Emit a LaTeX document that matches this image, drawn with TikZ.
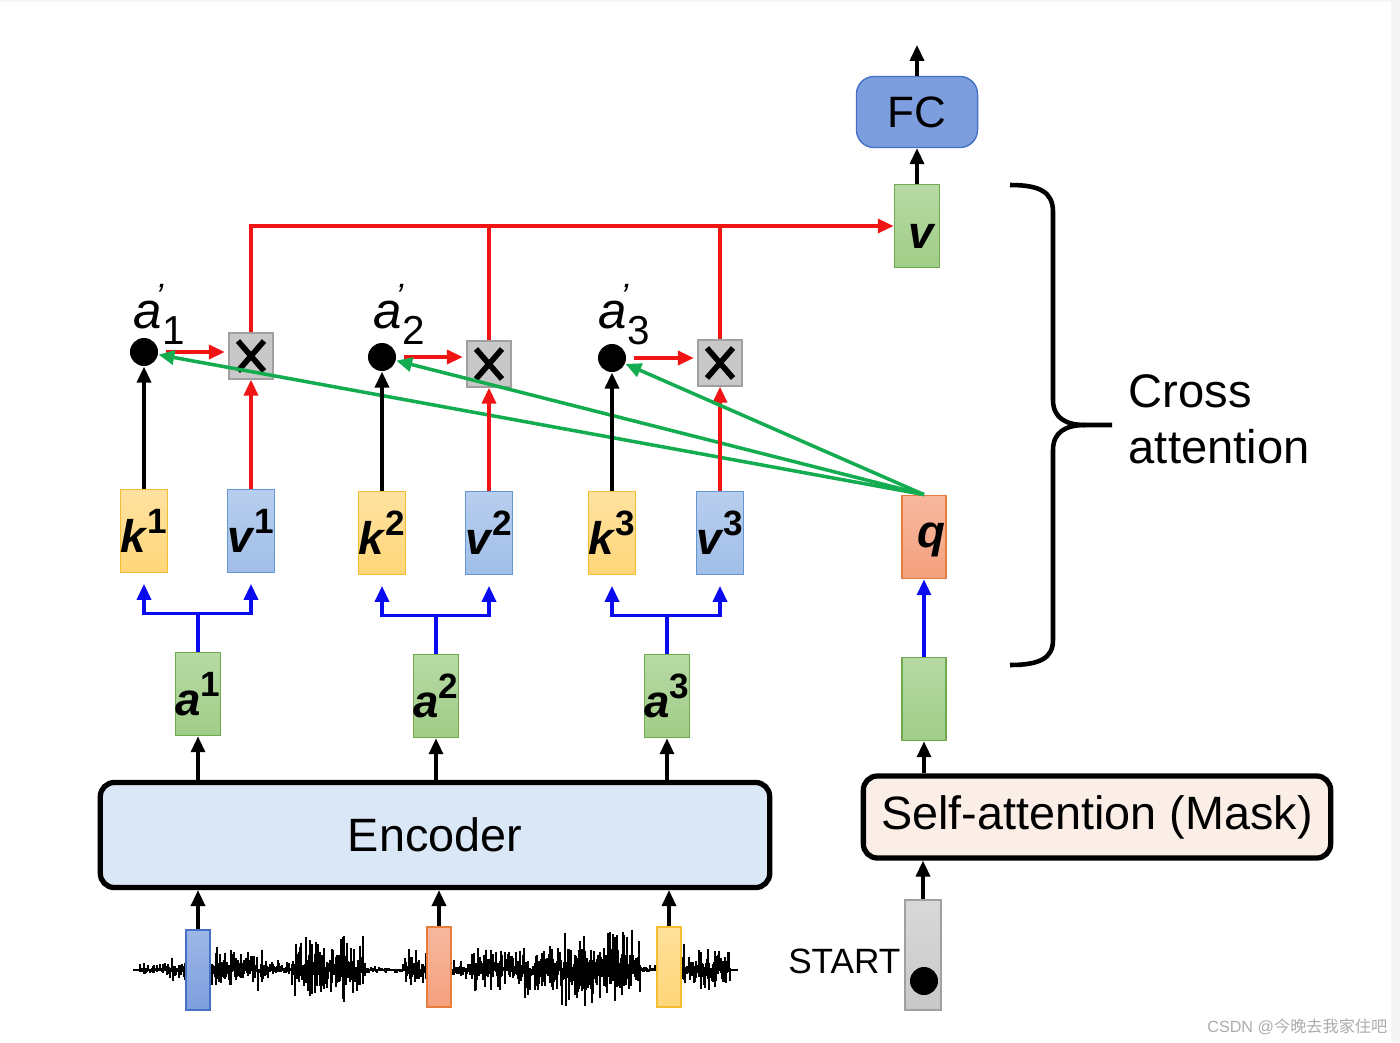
\documentclass[tikz,border=0pt]{standalone}
\usepackage{fontspec}
\setmainfont{Liberation Sans}
\newfontfamily\cjk{Noto Sans CJK SC}
\usepackage{tikz}
\usetikzlibrary{arrows.meta,positioning,calc}
\definecolor{ink}{RGB}{0,0,0}
\definecolor{keyfill}{RGB}{255,214,120}
\definecolor{keyedge}{RGB}{245,190,50}
\definecolor{valfill}{RGB}{160,190,232}
\definecolor{valedge}{RGB}{100,150,210}
\definecolor{grnfill}{RGB}{160,205,135}
\definecolor{grnedge}{RGB}{110,170,75}
\definecolor{qfill}{RGB}{244,160,125}
\definecolor{qedge}{RGB}{230,125,60}
\definecolor{mulfill}{RGB}{200,200,200}
\definecolor{muledge}{RGB}{160,160,160}
\definecolor{fcfill}{RGB}{125,158,222}
\definecolor{fcedge}{RGB}{70,112,196}
\definecolor{encfill}{RGB}{218,231,246}
\definecolor{safill}{RGB}{250,238,230}
\definecolor{redline}{RGB}{240,20,20}
\definecolor{bluline}{RGB}{10,10,240}
\definecolor{grnline}{RGB}{20,172,80}
\newcommand\vecl[2]{\textbf{\textit{#1}}\raisebox{0.42em}{\fontsize{10}{10}\selectfont\bfseries #2}}
\newcommand\aprime[1]{\textit{a}\llap{\raisebox{0.38em}{\fontsize{10}{10}\selectfont\textit{’}}\kern-0.03em}\raisebox{-0.32em}{\fontsize{11.5}{11.5}\selectfont #1}}

\begin{document}
\begin{tikzpicture}[x=0.01cm,y=-0.01cm,
    tall/.style={minimum width=0.44cm,minimum height=0.83cm,inner sep=0pt,
      line width=0.5pt,font=\fontsize{13}{13}\selectfont},
    keybox/.style={tall,draw=keyedge,top color=keyfill!70!white,bottom color=keyfill},
    valbox/.style={tall,draw=valedge,top color=valfill!75!white,bottom color=valfill},
    inbox/.style={tall,draw=grnedge,top color=grnfill!75!white,bottom color=grnfill},
    qbox/.style={tall,draw=qedge,top color=qfill!75!white,bottom color=qfill},
    mulbox/.style={draw=muledge,fill=mulfill,minimum width=0.44cm,minimum height=0.46cm,
      inner sep=0pt,path picture={
        \draw[ink,line width=1.6pt]
          ($(path picture bounding box.south west)+(0.09cm,0.08cm)$) --
          ($(path picture bounding box.north east)+(-0.09cm,-0.08cm)$)
          ($(path picture bounding box.north west)+(0.09cm,-0.08cm)$) --
          ($(path picture bounding box.south east)+(-0.09cm,0.08cm)$);}},
    dot/.style={circle,fill=ink,minimum size=0.28cm,inner sep=0pt},
    bigbox/.style={draw=ink,line width=1.5pt,rounded corners=4pt,inner sep=0pt,
      font=\fontsize{13.3}{13.3}\selectfont},
    chunk/.style={minimum width=0.24cm,minimum height=0.8cm,inner sep=0pt,line width=0.6pt},
    blk/.style={draw=ink,line width=0.9pt,-{Triangle[length=4.5pt,width=4pt]}},
    redarr/.style={draw=redline,line width=0.9pt,-{Triangle[length=4.5pt,width=4pt]}},
    bluarr/.style={draw=bluline,line width=0.9pt,-{Triangle[length=4.5pt,width=4pt]}},
    grnarr/.style={draw=grnline,line width=1pt,-{Triangle[length=4.5pt,width=4pt]}},
    wave/.style={draw=ink,line width=0.55pt}]
  \useasboundingbox (0,0) rectangle (1400,1042);
  \fill[gray!8] (1391,0) rectangle (1400,1042);
  \fill[gray!8] (0,0) rectangle (1391,2);

  % waveform
  \pgfmathsetseed{11}
  \draw[wave] (133,970) -- (738,970);
  \foreach \xa/\xb/\amp in {140/158/9,160/185/14,212/262/28,263/290/12,292/365/42,
      366/400/5,402/426/24,452/470/12,471/520/26,521/560/36,561/640/44,
      641/656/5,682/730/27}{
    \foreach \x in {\xa,...,\xb}{
      \pgfmathsetmacro\up{\amp*rnd*(0.25+0.75*rnd)}
      \pgfmathsetmacro\dn{\amp*0.85*rnd*(0.25+0.75*rnd)}
      \draw[wave] (\x,{970-\up}) -- (\x,{970+\dn});
    }
  }
  \node[chunk,draw=fcedge,top color=fcfill!75!white,bottom color=fcfill] (w1) at (198,970) {};
  \node[chunk,draw=qedge,top color=qfill!75!white,bottom color=qfill] (w2) at (439,967) {};
  \node[chunk,draw=keyedge,top color=keyfill!75!white,bottom color=keyfill] (w3) at (669,967) {};

  % encoder side
  \node[bigbox,fill=encfill,minimum width=6.69cm,minimum height=1.05cm] (enc) at (435,835) {Encoder};
  \node[inbox] (a1) at (198,694) {\vecl{a}{1}};
  \node[inbox] (a2) at (436,696) {\vecl{a}{2}};
  \node[inbox] (a3) at (667,696) {\vecl{a}{3}};
  \node[keybox] (k1) at (144,531) {\vecl{k}{1}};
  \node[valbox] (v1) at (251,531) {\vecl{v}{1}};
  \node[keybox] (k2) at (382,533) {\vecl{k}{2}};
  \node[valbox] (v2) at (489,533) {\vecl{v}{2}};
  \node[keybox] (k3) at (612,533) {\vecl{k}{3}};
  \node[valbox] (v3) at (720,533) {\vecl{v}{3}};
  \node[dot] (d1) at (144,352) {};
  \node[dot] (d2) at (382,357) {};
  \node[dot] (d3) at (612,358) {};
  \node[mulbox] (m1) at (251,356) {};
  \node[mulbox] (m2) at (489,364) {};
  \node[mulbox] (m3) at (720,363) {};
  \node[anchor=base west,inner sep=0pt,font=\fontsize{14.5}{14.5}\selectfont] (l1) at (133,328) {\aprime{1}};
  \node[anchor=base west,inner sep=0pt,font=\fontsize{14.5}{14.5}\selectfont] (l2) at (373,328) {\aprime{2}};
  \node[anchor=base west,inner sep=0pt,font=\fontsize{14.5}{14.5}\selectfont] (l3) at (598,328) {\aprime{3}};

  % decoder side
  \node[qbox] (q) at (924,537) {\raisebox{-3pt}[0pt][0pt]{\hspace{4pt}\textbf{\textit{q}}}};
  \node[inbox] (hid) at (924,699) {};
  \node[bigbox,fill=safill,minimum width=4.67cm,minimum height=0.82cm] (sa) at (1097,817) {Self-attention (Mask)};
  \node[draw=muledge,top color=mulfill!70!white,bottom color=mulfill,minimum width=0.36cm,
    minimum height=1.1cm,inner sep=0pt] (start) at (923,955) {};
  \node[dot] (sdot) at (924,981) {};
  \node[anchor=east,inner sep=0pt,font=\fontsize{10}{10}\selectfont] (startlbl) at (901,961) {START};
  \node[inbox,minimum width=0.45cm] (vout) at (917,226) {\raisebox{-6.5pt}[0pt][0pt]{\hspace{3pt}\textbf{\textit{v}}}};
  \node[draw=fcedge,fill=fcfill,rounded corners=5pt,minimum width=1.21cm,minimum height=0.71cm,
    inner sep=0pt,font=\fontsize{12.5}{12.5}\selectfont] (fc) at (917,112) {FC};
  \coordinate (out) at (917,45);
  \node[anchor=west,align=left,inner sep=0pt,font=\fontsize{13.4}{15.8}\selectfont] (ca) at (1128,419) {Cross\\attention};
  \node[anchor=east,inner sep=0pt,text=gray!65,font=\fontsize{4.6}{4.6}\selectfont] (wm) at (1388,1027) {CSDN @{\cjk 今晚去我家住吧}};

  % connectors
  \foreach \i in {1,2,3}{
    \draw[blk] (w\i.north) -- (w\i.north |- enc.south);
    \draw[blk] (a\i.south |- enc.north) -- (a\i.south);
    \coordinate (f\i) at ($(a\i.north)+(0,-38)$);
    \draw[draw=bluline,line width=0.9pt] (a\i.north) -- (f\i);
    \draw[bluarr,shorten >=3pt] (f\i) -| (k\i.south);
    \draw[bluarr,shorten >=3pt] (f\i) -| (v\i.south);
    \draw[blk] (k\i.north) -- (d\i.south);
    \draw[redarr] (v\i.north) -- (m\i.south);
    \draw[redarr,shorten <=2pt,shorten >=1pt] (d\i.east) -- (d\i.east -| m\i.west);
    \draw[grnarr] (q.north) -- (d\i);
  }
  \draw[redarr] (m1.north) |- (vout.west);
  \draw[draw=redline,line width=0.9pt] (m2.north) -- (m2.north |- vout.west);
  \draw[draw=redline,line width=0.9pt] (m3.north) -- (m3.north |- vout.west);
  \draw[blk] (start.north) -- (start.north |- sa.south);
  \draw[blk] (sa.north -| hid) -- (hid.south);
  \draw[bluarr] (hid.north) -- (q.south);
  \draw[blk] (vout.north) -- (fc.south);
  \draw[blk] (fc.north) -- (out);

  % brace
  \draw[line width=1.3pt] (1010,185) .. controls (1040,185) and (1053,192) .. (1053,212)
    -- (1053,400) .. controls (1053,418) and (1066,425) .. (1085,425) -- (1112,425);
  \draw[line width=1.3pt] (1085,425) .. controls (1066,425) and (1053,432) .. (1053,450)
    -- (1053,640) .. controls (1053,658) and (1040,665) .. (1010,665);
\end{tikzpicture}
\end{document}
